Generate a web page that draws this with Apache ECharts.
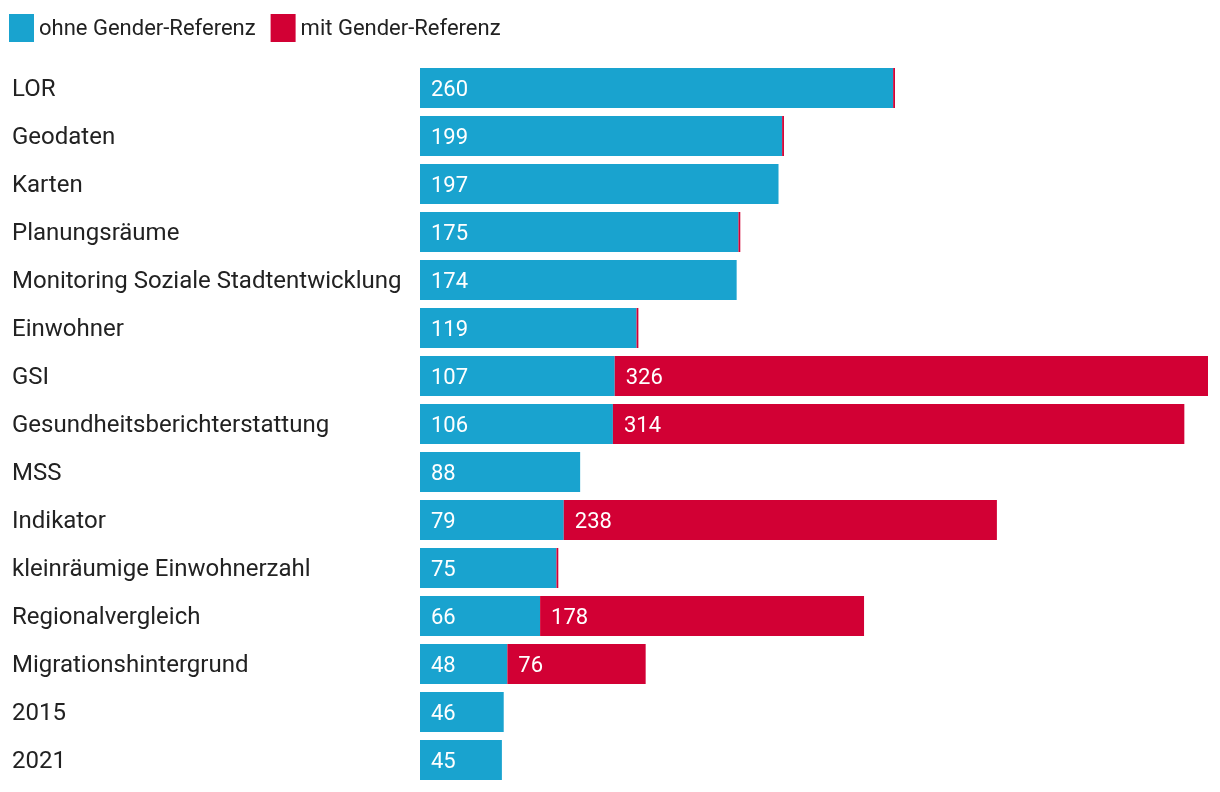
<!DOCTYPE html>
<html><head><meta charset="utf-8">
<script src="https://cdn.jsdelivr.net/npm/echarts@6/dist/echarts.min.js"></script>
<style>html,body{margin:0;padding:0;background:#fff}#c{width:1220px;height:792px}</style>
</head><body><div id="c"></div>
<script>
const categories = ["LOR","Geodaten","Karten","Planungsräume","Monitoring Soziale Stadtentwicklung","Einwohner","GSI","Gesundheitsberichterstattung","MSS","Indikator","kleinräumige Einwohnerzahl","Regionalvergleich","Migrationshintergrund","2015","2021"];
const ohneGender = [260,199,197,175,174,119,107,106,88,79,75,66,48,46,45];
const mitGender = [1,1,0,1,0,1,326,314,0,238,1,178,76,0,0];
const seriesNames = ["ohne Gender-Referenz","mit Gender-Referenz"];

const chart = echarts.init(document.getElementById('c'));
const lbl = {
  show: true, position: 'insideLeft', distance: 11, color: '#fff',
  fontFamily: 'Roboto', fontSize: 22, offset: [0, 2],
  formatter: p => p.value >= 10 ? String(p.value) : ''
};
chart.setOption({
  animation: false,
  textStyle: { fontFamily: 'Roboto' },
  legend: {
    left: 4, top: 9, itemWidth: 25, itemHeight: 28, itemGap: 15,
    icon: 'rect',
    textStyle: { fontFamily: 'Roboto', fontSize: 22, color: '#222',
      rich: { t: { fontFamily: 'Roboto', fontSize: 22, color: '#222', padding: [3,0,0,0] } } },
    formatter: n => '{t|' + n + '}',
    data: seriesNames
  },
  grid: { left: 420, right: 12, top: 64, bottom: 8, containLabel: false },
  xAxis: { type: 'value', min: 0, max: 433, show: false },
  yAxis: {
    type: 'category', data: categories, inverse: true,
    axisLine: { show: false }, axisTick: { show: false },
    axisLabel: { align: 'left', margin: 408, fontFamily: 'Roboto', fontSize: 24, color: '#222',
      formatter: v => '{t|' + v + '}',
      rich: { t: { fontFamily: 'Roboto', fontSize: 24, color: '#222', padding: [4,0,0,0] } } }
  },
  series: [
    { name: seriesNames[0], type: 'bar', stack: 's', data: ohneGender, barWidth: 40,
      itemStyle: { color: '#19a3cf' }, label: lbl },
    { name: seriesNames[1], type: 'bar', stack: 's', data: mitGender, barWidth: 40,
      itemStyle: { color: '#d20034' }, label: lbl }
  ]
});
</script></body></html>
